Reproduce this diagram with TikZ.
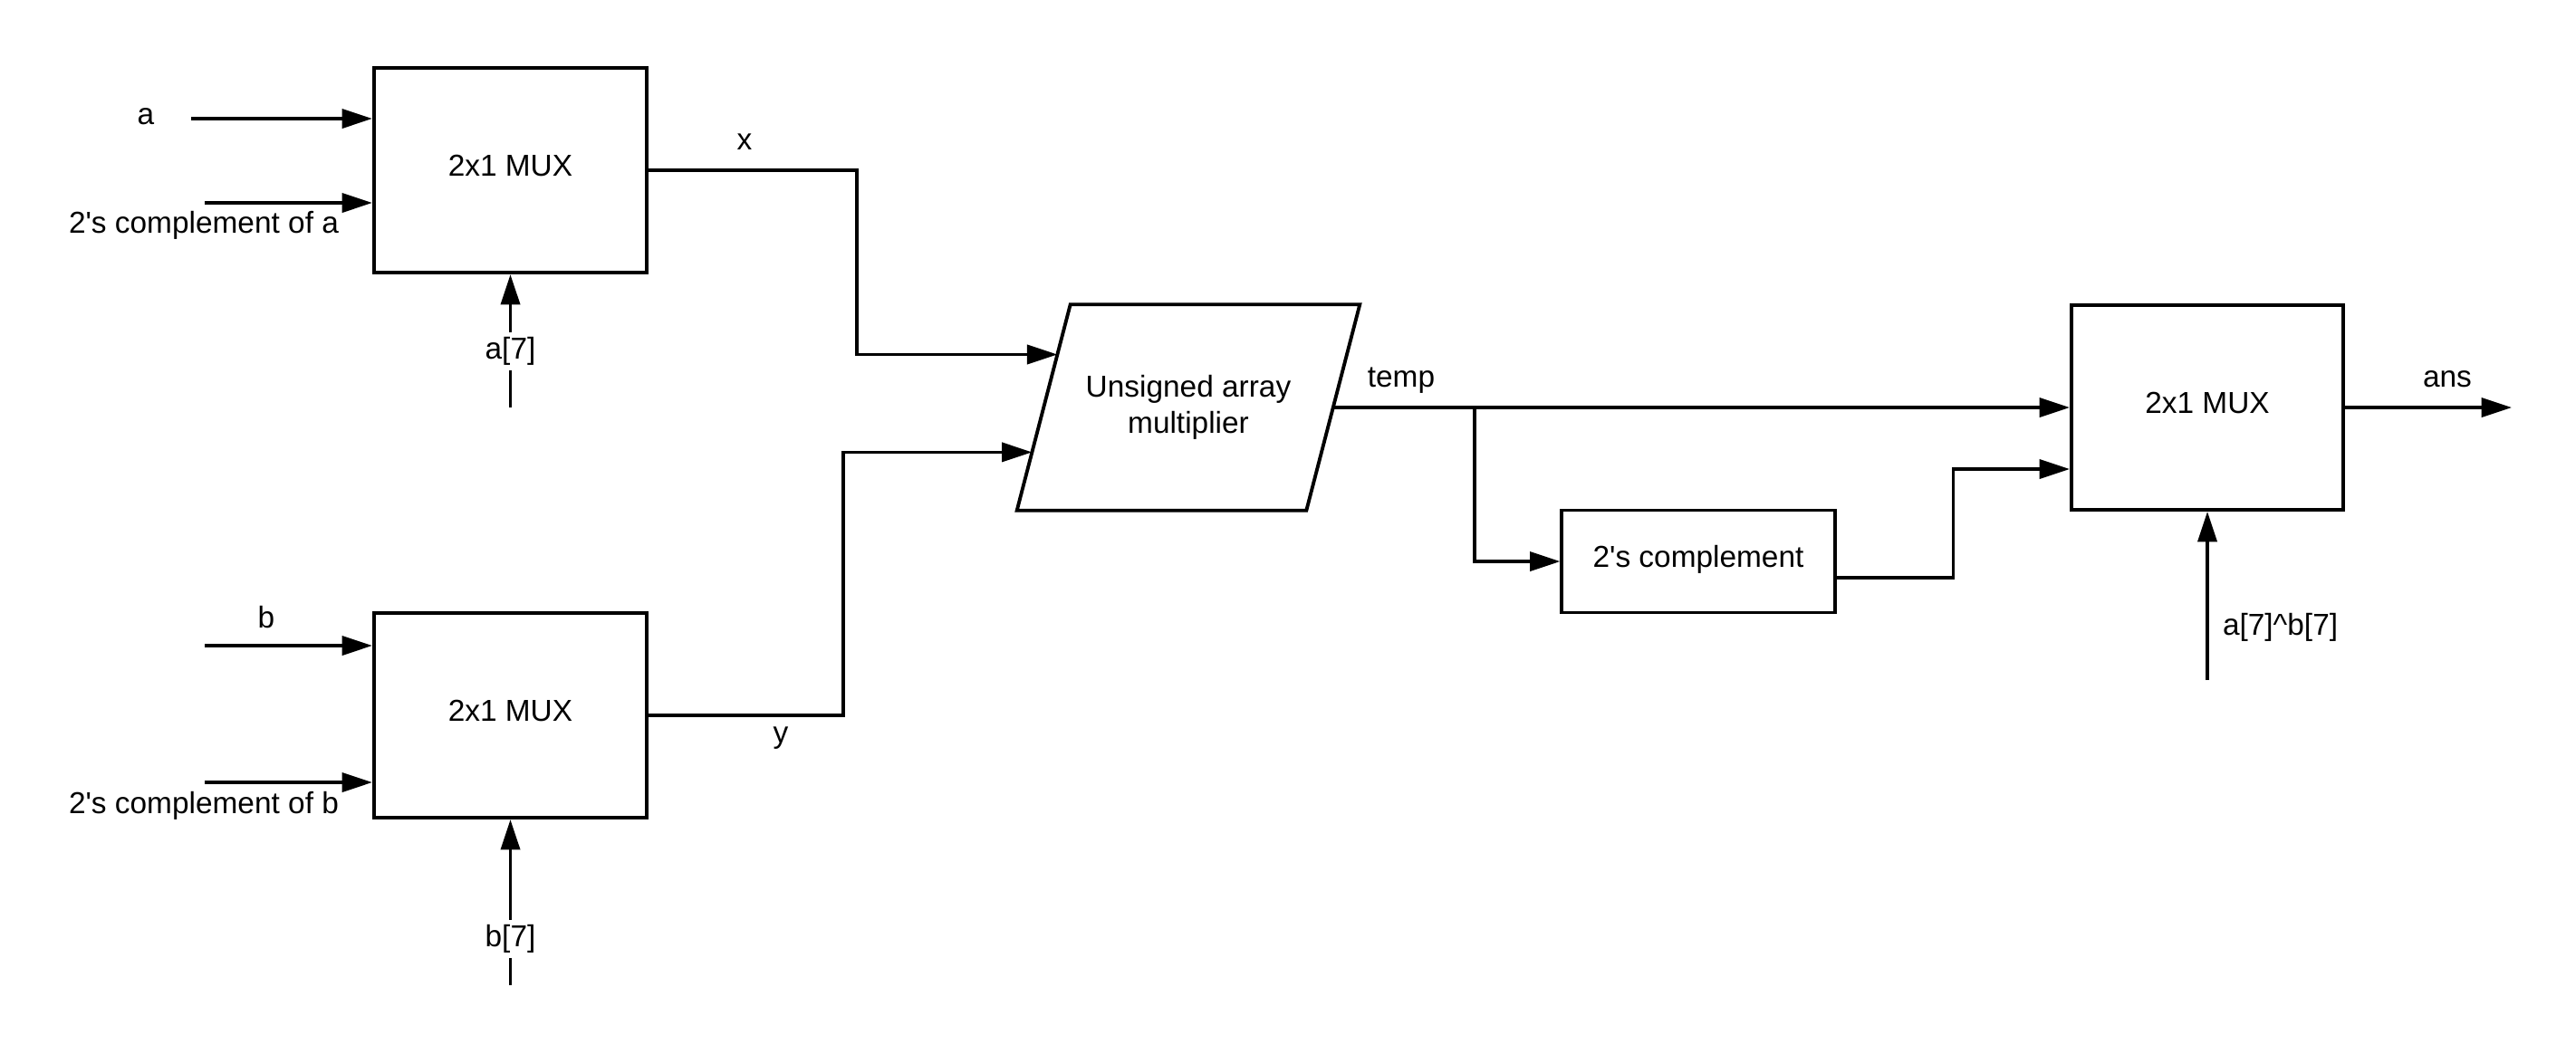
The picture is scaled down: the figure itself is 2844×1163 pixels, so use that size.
\documentclass[tikz,border=0pt]{standalone}
\usepackage{fontspec}
\newfontfamily\diagfont{Liberation Sans}
\usetikzlibrary{positioning,arrows.meta,calc}

\tikzset{
  every node/.style={font=\diagfont\fontsize{9.5}{11.4}\selectfont},
  block/.style={draw, line width=1.1pt, minimum width=3.01cm, minimum height=2.26cm, inner sep=0pt, text depth=3pt},
  wire/.style={line width=1pt, -{Triangle[length=9.5pt,width=6pt]}},
  cut/.style={fill=white, inner sep=1.5pt},
}

\begin{document}
\begin{tikzpicture}[x=0.01cm, y=-0.01cm]
  \useasboundingbox (0,0) rectangle (2844,1163);

  % Define nodes

  \node[block] (muxa) at (563.5,188) {2x1 MUX};
  \node[block] (muxb) at (563.5,790) {2x1 MUX};
  \node[align=center, minimum width=3.18cm, minimum height=2.26cm, inner sep=0pt] (mult) at (1312,450) {Unsigned array\\multiplier};
  \node[block, minimum height=1.13cm] (comp) at (1875,620) {2's complement};
  \node[block, minimum width=3cm] (muxo) at (2437,450) {2x1 MUX};

  % Multiplier outline
  \coordinate (mtl) at ($(mult.north west)+(29.5,0)$);
  \coordinate (mtr) at ($(mult.north east)+(29.5,0)$);
  \coordinate (mbr) at ($(mult.south east)+(-29.5,0)$);
  \coordinate (mbl) at ($(mult.south west)+(-29.5,0)$);
  \draw[line width=1.1pt] (mtl) -- (mtr) -- (mbr) -- (mbl) -- cycle;

  % Free ends
  \coordinate (ain) at (211,131);
  \coordinate (acin) at (226,224);
  \coordinate (bin) at (226,713);
  \coordinate (bcin) at (226,864);
  \coordinate (a7) at (563.5,450);
  \coordinate (b7) at (563.5,1088);
  \coordinate (xorin) at (2437,751);
  \coordinate (mout) at ($(mtr)!0.5!(mbr)$);
  \coordinate (tap) at (1628,450);
  \coordinate (ansout) at (2773,450);

  % Labels
  \node (la) at (161,129) {a};
  \node (lac) at (225,249) {2's complement of a};
  \node (lb) at (294,682) {b};
  \node (lbc) at (225,890) {2's complement of b};
  \node (lx) at (822,157) {x};
  \node (ly) at (862,815) {y};
  \node (ltemp) at (1547,420) {temp};
  \node (lans) at (2702,419) {ans};

  % Connect the nodes
  \draw[wire] (ain) -- (ain -| muxa.west);
  \draw[wire] (acin) -- (acin -| muxa.west);
  \draw[wire] (bin) -- (bin -| muxb.west);
  \draw[wire] (bcin) -- (bcin -| muxb.west);
  \draw[wire] (a7) -- node[cut, pos=0.42] {a[7]} (muxa.south);
  \draw[wire] (b7) -- node[cut, pos=0.28] {b[7]} (muxb.south);
  \draw[wire] (muxa.east) -- ++(230,0) |- ($(mtl)!0.243!(mbl)$);
  \draw[wire] (muxb.east) -- ++(215,0) |- ($(mtl)!0.717!(mbl)$);
  \draw[wire] (mout) -- (muxo.west);
  \draw[wire] (tap) |- (comp.west);
  \draw[wire] ($(comp.east)+(0,18)$) -- ++(129,0) |- ($(muxo.west)+(0,68)$);
  \draw[wire] (xorin) -- node[right, pos=0.31, xshift=1pt] {a[7]\textasciicircum b[7]} (muxo.south);
  \draw[wire] (muxo.east) -- (ansout);

\end{tikzpicture}
\end{document}
